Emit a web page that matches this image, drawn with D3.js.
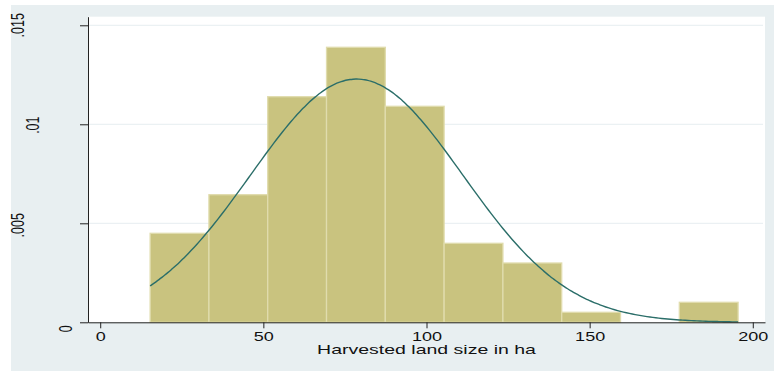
<!DOCTYPE html>
<html><head><meta charset="utf-8">
<script src="https://cdn.jsdelivr.net/npm/d3@7"></script>
<style>
html,body{margin:0;padding:0;background:#fff;}
svg{display:block;font-family:"Liberation Sans",Arial,sans-serif;}
</style></head>
<body>
<svg id="chart" width="774" height="371"></svg>
<script>
// ---- data ----
const binLower = [15.3, 33.32, 51.34, 69.36, 87.38, 105.4, 123.42, 141.44, 159.46, 177.48];
const binUpper = [33.32, 51.34, 69.36, 87.38, 105.4, 123.42, 141.44, 159.46, 177.48, 195.5];
const density  = [0.004495, 0.006444, 0.011394, 0.013889, 0.010909, 0.00399, 0.002995, 0.000505, 0, 0.00101];
const normalMean = 78.6;
const normalSD = 32.47;
const xTicks = [0, 50, 100, 150, 200];
const yTicks = [0, 0.005, 0.01, 0.015];
const yTickLabels = ["0", ".005", ".01", ".015"];
const xTitle = "Harvested land size in ha";

// ---- layout / style ----
const W = 774, H = 371;
const plot = {left: 88, right: 765, top: 16.7, bottom: 322.3};
const xDomain = [-3.74, 203.74];
const yDomain = [0, 0.015434];
const bgColor = "#e8eff1", gridColor = "#e6edf0";
const barFill = "#c9c37f", barStroke = "#e0dcad";
const curveColor = "#2b6e69", axisColor = "#222";
const stretch = 1.48;
const yLabelDx = [-16, -64.5, -49, -64];
const yLabelDy = [6, 1.5, 0.4, -0.5];

const svg = d3.select("#chart");
svg.append("rect").attr("x", 11).attr("y", 5).attr("width", W - 11).attr("height", H - 5).attr("fill", bgColor);
svg.append("rect").attr("x", plot.left).attr("y", plot.top)
  .attr("width", plot.right - plot.left).attr("height", plot.bottom - plot.top).attr("fill", "#fff");

const x = d3.scaleLinear().domain(xDomain).range([plot.left, plot.right]);
const y = d3.scaleLinear().domain(yDomain).range([plot.bottom, plot.top]);

// gridlines
svg.append("g").selectAll("line").data(yTicks.filter(d => d > 0)).join("line")
  .attr("x1", plot.left).attr("x2", plot.right - 2)
  .attr("y1", d => y(d)).attr("y2", d => y(d))
  .attr("stroke", gridColor).attr("stroke-width", 1);

// bars
const bins = binLower.map((lo, i) => ({lo, hi: binUpper[i], d: density[i]})).filter(b => b.d > 0);
svg.append("g").selectAll("rect").data(bins).join("rect")
  .attr("x", b => x(b.lo)).attr("width", b => x(b.hi) - x(b.lo))
  .attr("y", b => y(b.d)).attr("height", b => y(0) - y(b.d))
  .attr("fill", barFill).attr("stroke", barStroke).attr("stroke-width", 1.3);

// normal density curve
const xmin = binLower[0], xmax = binUpper[binUpper.length - 1];
const pts = d3.range(0, 201).map(i => {
  const v = xmin + (xmax - xmin) * i / 200;
  const z = (v - normalMean) / normalSD;
  return [v, Math.exp(-0.5 * z * z) / (normalSD * Math.sqrt(2 * Math.PI))];
});
svg.append("path").datum(pts)
  .attr("d", d3.line().x(p => x(p[0])).y(p => y(p[1])).curve(d3.curveBasis))
  .attr("fill", "none").attr("stroke", curveColor).attr("stroke-width", 1.4);

// x axis
const gx = svg.append("g").attr("transform", `translate(0,${plot.bottom})`)
  .call(d3.axisBottom(x).tickValues(xTicks).tickFormat(d3.format("d")).tickSize(6).tickSizeOuter(0));
gx.select(".domain").attr("stroke", axisColor);
gx.selectAll(".tick line").attr("stroke", axisColor);
gx.selectAll(".tick text").attr("y", 0).attr("dy", 0)
  .attr("transform", `translate(0,18.7) scale(${stretch},1)`)
  .attr("font-size", 12.2).attr("fill", "#111").attr("font-family", '"Liberation Sans",Arial,sans-serif');

// y axis
const gy = svg.append("g").attr("transform", `translate(${plot.left},0)`)
  .call(d3.axisLeft(y).tickValues(yTicks).tickFormat((d, i) => yTickLabels[i]).tickSize(8).tickSizeOuter(0));
gy.select(".domain").attr("stroke", axisColor);
gy.selectAll(".tick line").attr("stroke", axisColor);
gy.selectAll(".tick text").attr("x", 0).attr("y", 0).attr("dy", 0)
  .attr("text-anchor", "middle")
  .attr("transform", (d, i) => `translate(${yLabelDx[i]},${yLabelDy[i]}) scale(${stretch},1) rotate(-90)`)
  .attr("font-size", 12.5).attr("fill", "#111").attr("font-family", '"Liberation Sans",Arial,sans-serif');

// x title
svg.append("text")
  .attr("transform", `translate(${(x(0) + x(200)) / 2},354.3) scale(1.5,1)`)
  .attr("text-anchor", "middle").attr("font-size", 13).attr("fill", "#111")
  .text(xTitle);
</script>
</body></html>
